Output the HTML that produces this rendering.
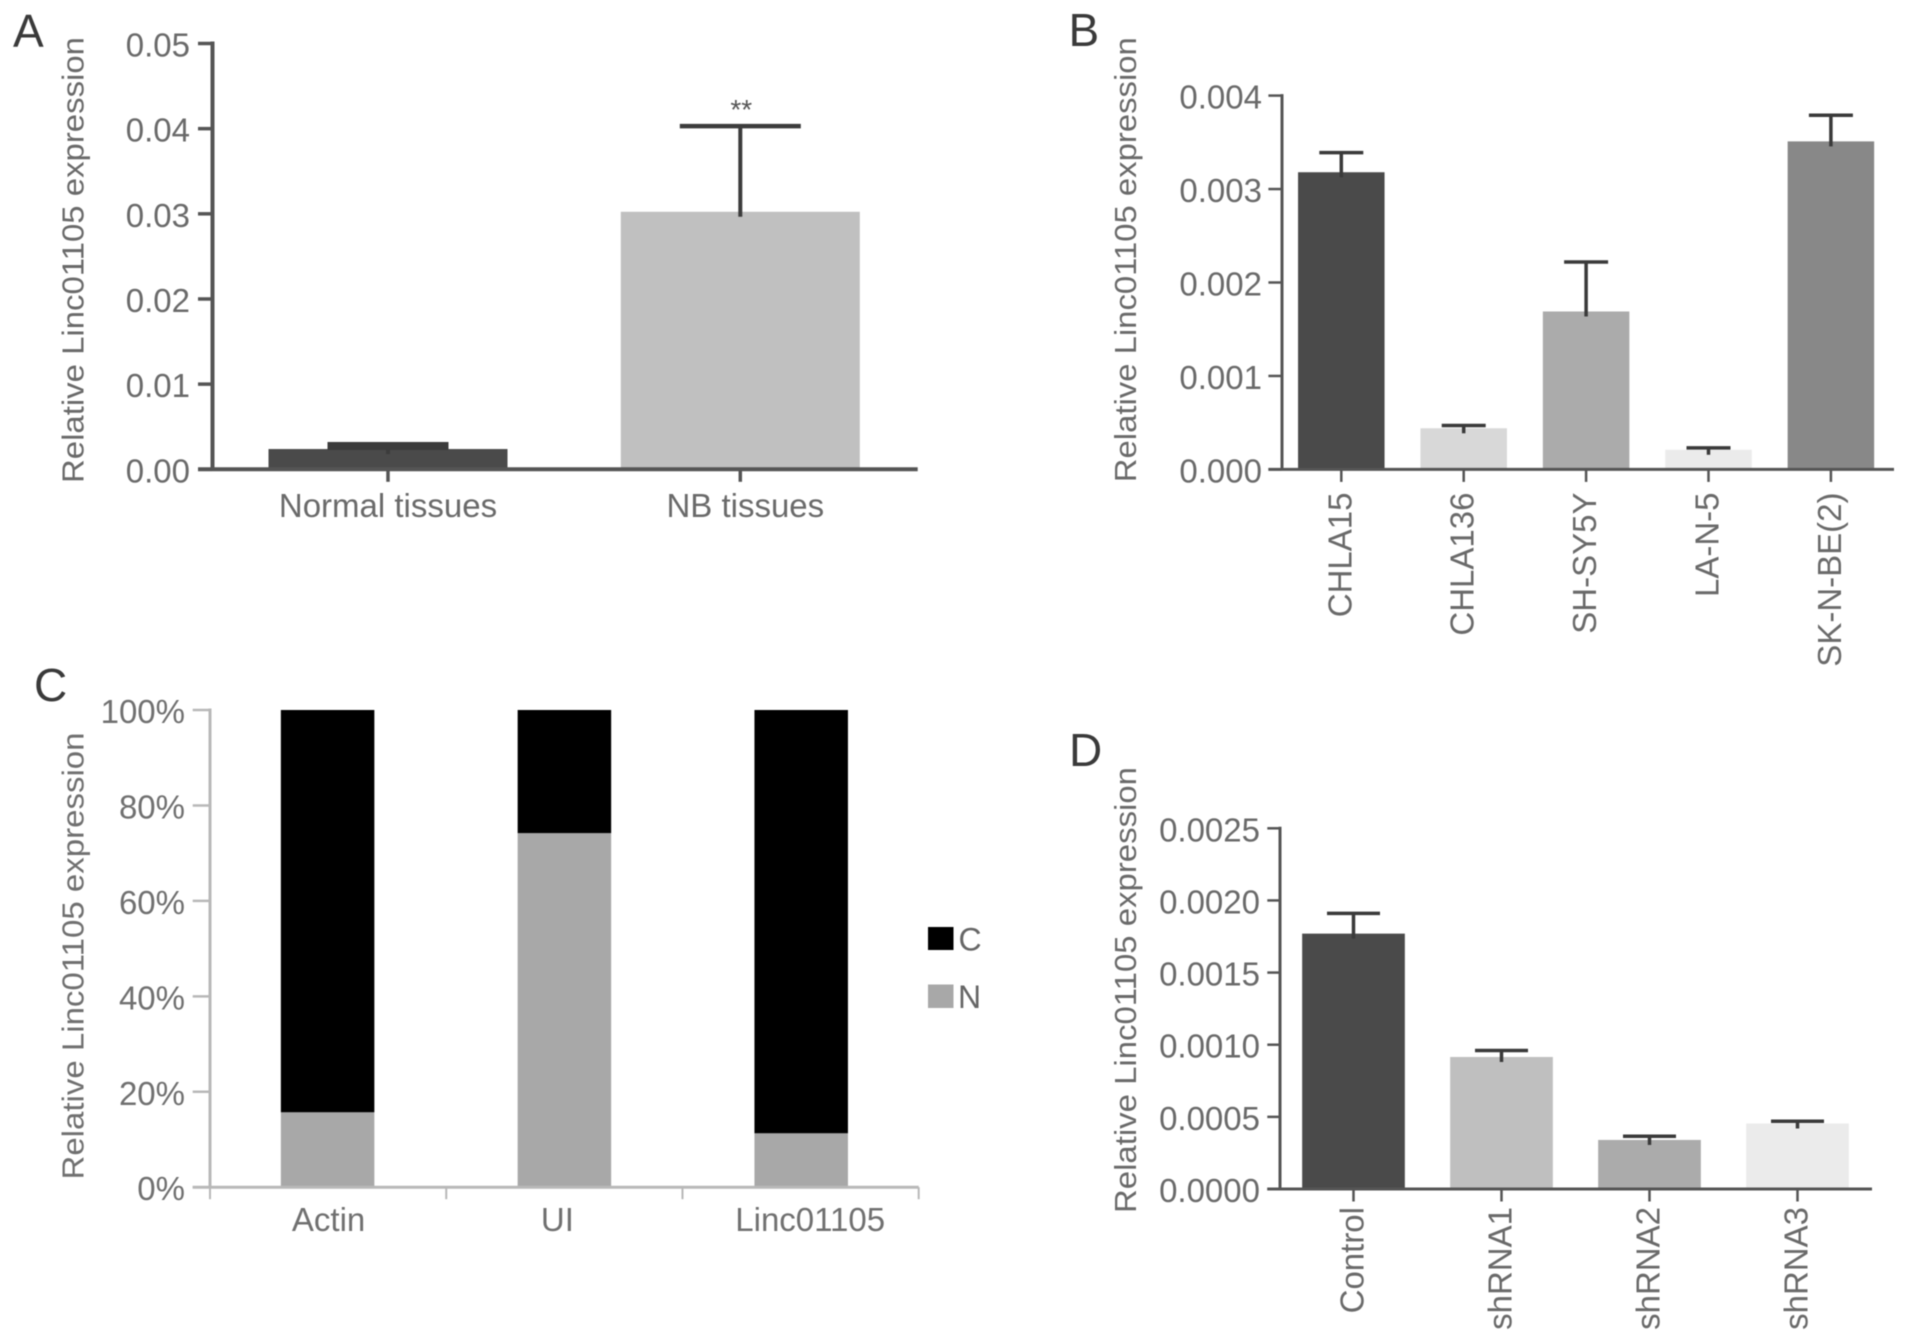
<!DOCTYPE html>
<html lang="en">
<head>
<meta charset="utf-8">
<title>Relative Linc01105 expression panels</title>
<style>
  html, body { margin: 0; padding: 0; background: #fff; }
  body { width: 1913px; height: 1342px; overflow: hidden; }
  svg { display: block; filter: blur(0.6px); font-family: "Liberation Sans", sans-serif; }
</style>
</head>
<body>
<svg id="figure" xmlns="http://www.w3.org/2000/svg" width="1913" height="1342" viewBox="0 0 1913 1342">
  <rect x="0" y="0" width="1913" height="1342" fill="#ffffff"/>
  <text x="13" y="47" font-size="46" fill="#3a3a3a">A</text>
  <text x="1068.5" y="46" font-size="46" fill="#3a3a3a">B</text>
  <text x="34" y="701" font-size="46" fill="#3a3a3a">C</text>
  <text x="1069" y="766" font-size="46" fill="#3a3a3a">D</text>
  <g id="panel-a"></g>
  <g id="panel-b"></g>
  <g id="panel-c"></g>
  <g id="panel-d"></g>
  <g id="legend-c">
    <rect x="928" y="927" width="25.5" height="23" fill="#000000"/>
    <text x="958.5" y="950.5" font-size="32" fill="#666666">C</text>
    <rect x="928" y="984.5" width="25.5" height="23.5" fill="#a8a8a8"/>
    <text x="958" y="1008" font-size="32" fill="#666666">N</text>
  </g>
</svg>
<script>
// ---- Chart data ----
const panelACategories = ['Normal tissues', 'NB tissues'];
const panelAValues = [0.00238, 0.03024];
const panelAErrorTops = [0.00274, 0.0403];
const panelATicks = ['0.00', '0.01', '0.02', '0.03', '0.04', '0.05'];

const panelBCategories = ['CHLA15', 'CHLA136', 'SH-SY5Y', 'LA-N-5', 'SK-N-BE(2)'];
const panelBValues = [0.00318, 0.00044, 0.00169, 0.00021, 0.00351];
const panelBErrorTops = [0.00339, 0.00047, 0.00222, 0.00023, 0.00379];
const panelBTicks = ['0.000', '0.001', '0.002', '0.003', '0.004'];

const panelCCategories = ['Actin', 'UI', 'Linc01105'];
const panelCNuclear = [15.7, 74.2, 11.3];
const panelCCytoplasmic = [84.3, 25.8, 88.7];
const panelCTicks = ['0%', '20%', '40%', '60%', '80%', '100%'];

const panelDCategories = ['Control', 'shRNA1', 'shRNA2', 'shRNA3'];
const panelDValues = [0.00177, 0.000915, 0.00034, 0.000454];
const panelDErrorTops = [0.00191, 0.00096, 0.000366, 0.00047];
const panelDTicks = ['0.0000', '0.0005', '0.0010', '0.0015', '0.0020', '0.0025'];

// ---- Drawing helpers ----
const NS = 'http://www.w3.org/2000/svg';

function el(parent, tag, attrs, text) {
  const node = document.createElementNS(NS, tag);
  for (const k in attrs) node.setAttribute(k, attrs[k]);
  if (text !== undefined) node.textContent = text;
  parent.appendChild(node);
  return node;
}

function slug(s) {
  return String(s).toLowerCase().replace(/[^a-z0-9]+/g, '-').replace(/^-|-$/g, '');
}

function makeYScale(ticks, top, bottom) {
  const nums = ticks.map(parseFloat);
  const min = nums[0];
  const max = nums[nums.length - 1];
  return v => bottom - (v - min) / (max - min) * (bottom - top);
}

function drawYAxis(g, f, ticks, y) {
  const line = el(g, 'line', { x1: f.axisX, x2: f.axisX, y1: f.top - f.axisW / 2, y2: f.bottom, stroke: f.axisColor, 'stroke-width': f.axisW });
  
  
  ticks.forEach(t => {
    const yy = y(parseFloat(t));
    const tick = el(g, 'line', { x1: f.tickLeft, x2: f.axisX, y1: yy, y2: yy, stroke: f.axisColor, 'stroke-width': f.axisW - 0.5 });
    
    
    const label = el(g, 'text', { x: f.yLabelX, y: yy + 13, 'text-anchor': 'end', 'font-size': f.tickFont, fill: f.textColor }, t);
    
    
  });
  const title = el(g, 'text', {
    transform: 'rotate(-90 ' + f.titleX + ' ' + f.titleY + ')',
    x: f.titleX, y: f.titleY, 'text-anchor': 'middle', 'font-size': 31, fill: f.textColor,
    textLength: f.titleLen, lengthAdjust: 'spacingAndGlyphs'
  }, 'Relative Linc01105 expression');
  
  
}

function drawXBase(g, f) {
  const line = el(g, 'line', { x1: f.tickLeft, x2: f.axisRight, y1: f.bottom, y2: f.bottom, stroke: f.axisColor, 'stroke-width': f.axisW });
  
  
}

function drawXLabel(g, f, text, cx, i) {
  let label;
  if (f.rotated) {
    const bx = cx + 10;
    label = el(g, 'text', { transform: 'rotate(-90 ' + bx + ' ' + f.xLabelY + ')', x: bx, y: f.xLabelY, 'text-anchor': 'end', 'font-size': f.xFont, fill: f.textColor }, text);
  } else {
    label = el(g, 'text', { x: cx + f.labelDx[i], y: f.xLabelY, 'text-anchor': 'middle', 'font-size': f.xFont, fill: f.textColor }, text);
  }
  
  
}

function drawBarChart(id, categories, values, errorTops, ticks, f) {
  const g = document.getElementById(id);
  const y = makeYScale(ticks, f.top, f.bottom);
  const x = i => f.firstCenter + i * f.step;
  categories.forEach((c, i) => {
    const top = y(values[i]);
    const bar = el(g, 'rect', { x: x(i) - f.barW / 2, y: top, width: f.barW, height: f.bottom - top, fill: f.colors[i] });
    
    
    const errY = y(errorTops[i]);
    const stem = el(g, 'line', { x1: x(i), x2: x(i), y1: errY, y2: top + 5, stroke: f.errColor, 'stroke-width': f.stemW });
    
    
    const capThickness = Array.isArray(f.capT) ? f.capT[i] : f.capT;
    const cap = el(g, 'line', { x1: x(i) - f.capW / 2, x2: x(i) + f.capW / 2, y1: errY, y2: errY, stroke: f.errColor, 'stroke-width': capThickness });
    
    
  });
  drawXBase(g, f);
  drawYAxis(g, f, ticks, y);
  categories.forEach((c, i) => {
    const tick = el(g, 'line', { x1: x(i), x2: x(i), y1: f.bottom, y2: f.bottom + 12.5, stroke: f.axisColor, 'stroke-width': f.axisW - 0.5 });
    
    
    drawXLabel(g, f, c, x(i), i);
  });
  return { y, x, g };
}

function drawStackedChart(id, categories, lower, upper, ticks, f) {
  const g = document.getElementById(id);
  const y = makeYScale(ticks, f.top, f.bottom);
  const x = i => f.firstCenter + i * f.step;
  categories.forEach((c, i) => {
    const split = y(lower[i]);
    const lowBar = el(g, 'rect', { x: x(i) - f.barW / 2, y: split, width: f.barW, height: f.bottom - split, fill: '#a8a8a8' });
    
    
    const tip = y(lower[i] + upper[i]);
    const highBar = el(g, 'rect', { x: x(i) - f.barW / 2, y: tip, width: f.barW, height: split - tip, fill: '#000000' });
    
    
  });
  drawXBase(g, f);
  drawYAxis(g, f, ticks, y);
  for (let i = 0; i <= categories.length; i++) {
    const tx = f.axisX + i * (f.axisRight - f.axisX) / categories.length;
    const tick = el(g, 'line', { x1: tx, x2: tx, y1: f.bottom, y2: f.bottom + 12, stroke: f.axisColor, 'stroke-width': 2 });
    
    
  }
  categories.forEach((c, i) => drawXLabel(g, f, c, x(i), i));
}

// ---- Panels ----
const panelA = drawBarChart('panel-a', panelACategories, panelAValues, panelAErrorTops, panelATicks, {
  top: 43.5, bottom: 469.3, axisX: 212.5, tickLeft: 198, axisRight: 917.7, axisW: 4, axisColor: '#555555',
  yLabelX: 190, tickFont: 33, textColor: '#6a6a6a', titleX: 83.5, titleY: 260, titleLen: 446,
  firstCenter: 388, step: 352.3, barW: 239, colors: ['#4a4a4a', '#c0c0c0'], errColor: '#3c3c3c',
  stemW: 4, capW: 121, capT: [8, 4.5], xLabelY: 517, xFont: 33, rotated: false, labelDx: [0, 5]
});
const stars = el(panelA.g, 'text', { x: panelA.x(1) + 1, y: 119, 'text-anchor': 'middle', 'font-size': 28, fill: '#555555' }, '**');



drawBarChart('panel-b', panelBCategories, panelBValues, panelBErrorTops, panelBTicks, {
  top: 95.6, bottom: 469.4, axisX: 1282, tickLeft: 1268.4, axisRight: 1894, axisW: 3, axisColor: '#555555',
  yLabelX: 1262, tickFont: 33, textColor: '#6a6a6a', titleX: 1135.8, titleY: 259.7, titleLen: 445,
  firstCenter: 1341.3, step: 122.4, barW: 86.5,
  colors: ['#4a4a4a', '#d8d8d8', '#ababab', '#ebebeb', '#888888'], errColor: '#3a3a3a',
  stemW: 3.5, capW: 44, capT: 3.5, xLabelY: 492.5, xFont: 33, rotated: true, labelDx: []
});

drawStackedChart('panel-c', panelCCategories, panelCNuclear, panelCCytoplasmic, panelCTicks, {
  top: 710, bottom: 1187.2, axisX: 210, tickLeft: 192.7, axisRight: 918.7, axisW: 3, axisColor: '#b8b8b8',
  yLabelX: 185, tickFont: 33, textColor: '#707070', titleX: 83.5, titleY: 956, titleLen: 447,
  firstCenter: 327.6, step: 236.8, barW: 93.5, xLabelY: 1231, xFont: 33, rotated: false, labelDx: [1, -7, 9]
});

drawBarChart('panel-d', panelDCategories, panelDValues, panelDErrorTops, panelDTicks, {
  top: 828.3, bottom: 1189, axisX: 1280, tickLeft: 1267.3, axisRight: 1872, axisW: 3, axisColor: '#555555',
  yLabelX: 1260, tickFont: 33, textColor: '#6a6a6a', titleX: 1135.8, titleY: 990, titleLen: 446,
  firstCenter: 1353.5, step: 148, barW: 102.7,
  colors: ['#4a4a4a', '#bfbfbf', '#ababab', '#ebebeb'], errColor: '#3a3a3a',
  stemW: 3.5, capW: 53, capT: 3.5, xLabelY: 1207, xFont: 33, rotated: true, labelDx: []
});
</script>
</body>
</html>
